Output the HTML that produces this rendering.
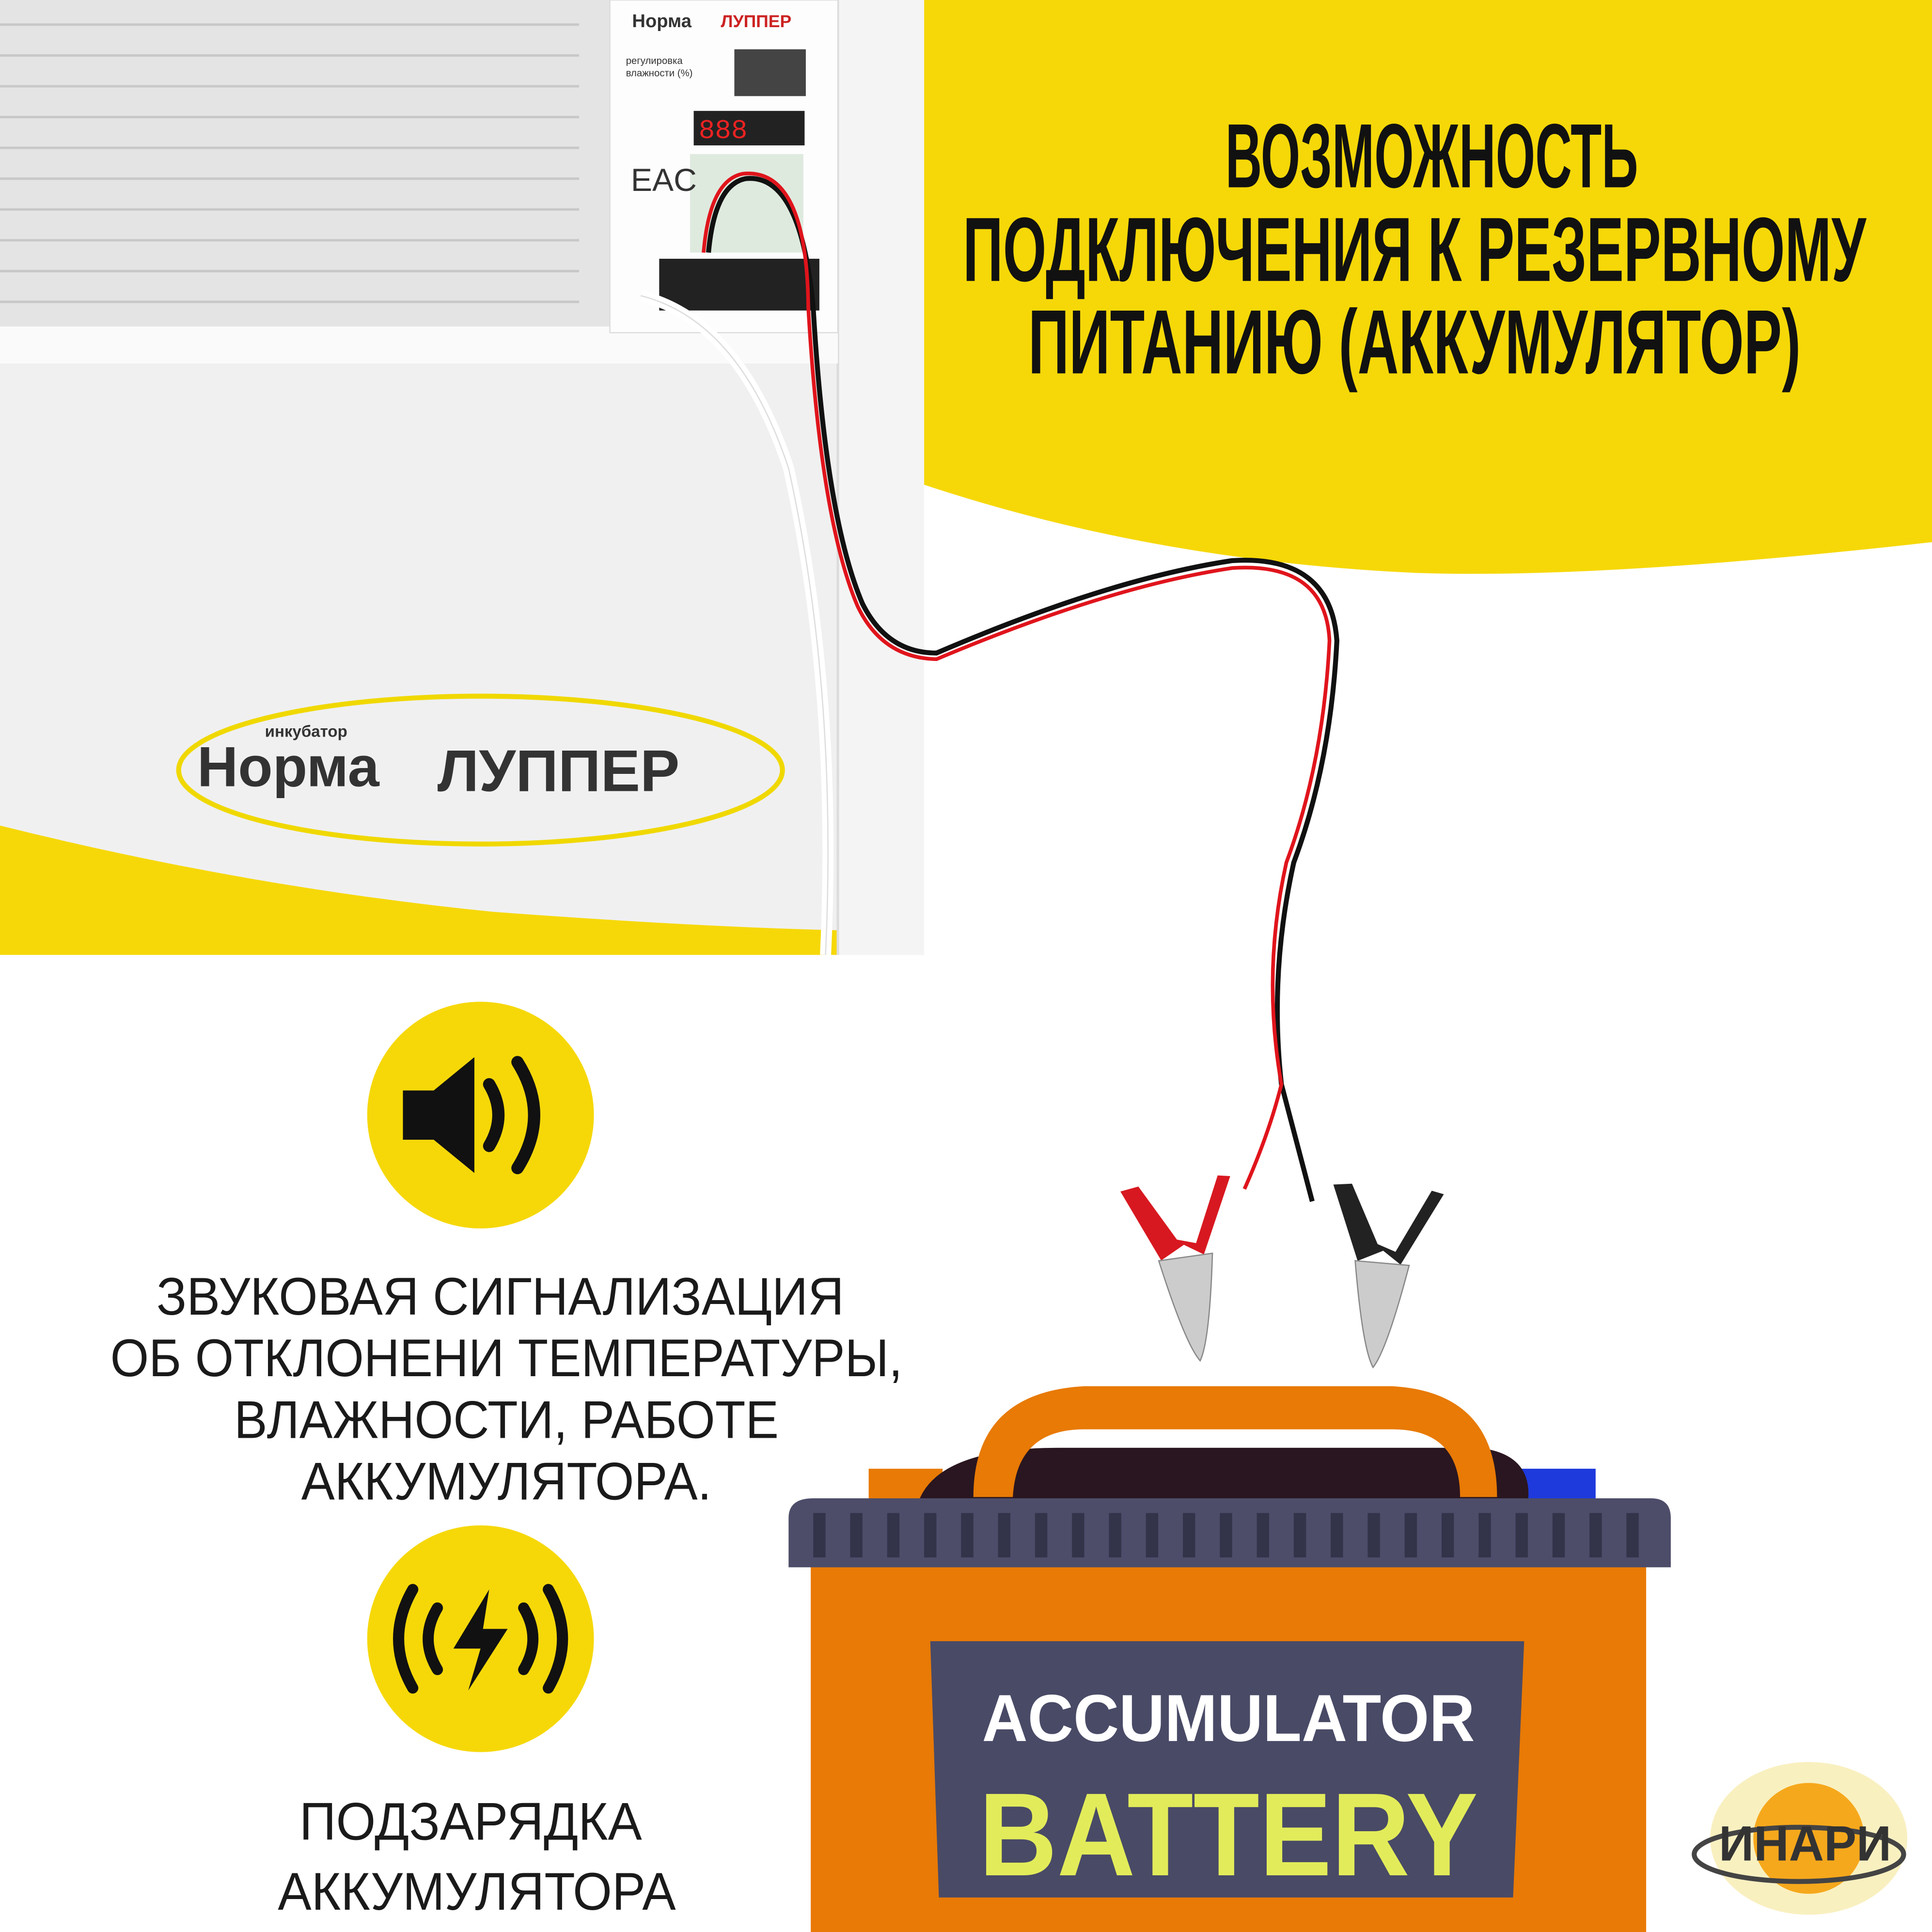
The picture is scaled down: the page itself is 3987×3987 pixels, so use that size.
<!DOCTYPE html>
<html><head><meta charset="utf-8"><style>
html,body{margin:0;padding:0;background:#fff;}
svg{display:block;}
</style></head><body>
<svg width="3987" height="3987" viewBox="0 0 1568 1568" xmlns="http://www.w3.org/2000/svg">
<rect width="1568" height="1568" fill="#fff"/>
<path d="M740 0 H1568 V440 Q1300 470 1150 465 Q930 455 740 390 Z" fill="#f6d808"/>
<rect x="0" y="0" width="750" height="775" fill="#f0f0f0"/>
<path d="M0 670 Q200 720 400 740 Q560 752 680 755 V775 H0 Z" fill="#f6d808"/>
<rect x="680" y="0" width="70" height="775" fill="#f4f4f4"/>
<line x1="680" y1="0" x2="680" y2="775" stroke="#dcdcdc" stroke-width="2"/>
<rect x="0" y="0" width="495" height="270" fill="#e4e4e4"/>
<g stroke="#c8c8c8" stroke-width="2">
<line x1="0" y1="20" x2="470" y2="20"/><line x1="0" y1="45" x2="470" y2="45"/><line x1="0" y1="70" x2="470" y2="70"/>
<line x1="0" y1="95" x2="470" y2="95"/><line x1="0" y1="120" x2="470" y2="120"/><line x1="0" y1="145" x2="470" y2="145"/>
<line x1="0" y1="170" x2="470" y2="170"/><line x1="0" y1="195" x2="470" y2="195"/><line x1="0" y1="220" x2="470" y2="220"/><line x1="0" y1="245" x2="470" y2="245"/>
</g>
<rect x="0" y="265" width="680" height="30" fill="#fafafa"/>
<rect x="495" y="0" width="185" height="270" fill="#fdfdfd" stroke="#ddd"/>
<text x="513" y="22" font-family="Liberation Sans, sans-serif" font-weight="bold" font-size="15" fill="#333">Норма</text>
<text x="585" y="22" font-family="Liberation Sans, sans-serif" font-weight="bold" font-size="14" fill="#c22">ЛУППЕР</text>
<text x="508" y="52" font-family="Liberation Sans, sans-serif" font-size="8" fill="#333">регулировка</text>
<text x="508" y="62" font-family="Liberation Sans, sans-serif" font-size="8" fill="#333">влажности (%)</text>
<rect x="596" y="40" width="58" height="38" fill="#444"/>
<rect x="563" y="90" width="90" height="28" fill="#222"/>
<text x="567" y="112" font-family="Liberation Mono, monospace" font-size="22" fill="#e22">888</text>
<rect x="560" y="125" width="92" height="80" fill="#dfeadf"/>
<rect x="535" y="210" width="130" height="42" fill="#222"/>
<text x="512" y="155" font-family="Liberation Sans, sans-serif" font-size="26" fill="#333">EAC</text>
<ellipse cx="390" cy="625" rx="245" ry="60" fill="none" stroke="#f0d800" stroke-width="4"/>
<text x="215" y="598" font-family="Liberation Sans, sans-serif" font-weight="bold" font-size="13" fill="#333">инкубатор</text>
<text x="160" y="638" font-family="Liberation Sans, sans-serif" font-weight="bold" font-size="46" fill="#333">Норма</text>
<text x="355" y="642" font-family="Liberation Sans, sans-serif" font-weight="bold" font-size="48" fill="#333">ЛУППЕР</text>
<path d="M520 240 Q600 260 640 380 Q680 560 670 775" fill="none" stroke="#fff" stroke-width="9"/>
<path d="M520 240 Q600 260 640 380 Q680 560 670 775" fill="none" stroke="#ddd" stroke-width="1"/>
<path d="M575 205 Q580 150 605 145 Q650 140 660 250 Q670 420 700 490 Q720 530 760 530 Q900 470 1000 455 Q1080 450 1085 520 Q1080 620 1050 700 Q1030 790 1040 880 L1065 975" fill="none" stroke="#111" stroke-width="4"/>
<path d="M571 205 Q576 146 603 141 Q655 136 656 250 Q666 422 696 492 Q716 534 760 535 Q900 476 1000 461 Q1076 456 1079 520 Q1074 620 1044 700 Q1024 790 1040 880 Q1030 920 1010 965" fill="none" stroke="#e0141c" stroke-width="3"/>
<g transform="translate(965,1040) rotate(-8)">
<path d="M-45 -80 L-20 -20 L0 -30 L15 -20 L45 -80 L35 -82 L10 -30 L-5 -35 L-30 -82 Z" fill="#d81820"/>
<path d="M-22 -20 Q-10 50 0 65 Q10 50 22 -20 Z" fill="#ccc" stroke="#888"/>
</g>
<g transform="translate(1120,1045) rotate(5)">
<path d="M-45 -80 L-20 -20 L0 -30 L15 -20 L45 -80 L35 -82 L10 -30 L-5 -35 L-30 -82 Z" fill="#222"/>
<path d="M-22 -20 Q-10 50 0 65 Q10 50 22 -20 Z" fill="#ccc" stroke="#888"/>
</g>
<g font-family="Liberation Sans Narrow, Liberation Sans, sans-serif" font-weight="bold" font-size="74" fill="#111" text-anchor="middle">
<text x="1162" y="152" textLength="335" lengthAdjust="spacingAndGlyphs">ВОЗМОЖНОСТЬ</text>
<text x="1148" y="228" textLength="733" lengthAdjust="spacingAndGlyphs">ПОДКЛЮЧЕНИЯ К РЕЗЕРВНОМУ</text>
<text x="1148" y="303" textLength="627" lengthAdjust="spacingAndGlyphs">ПИТАНИЮ (АККУМУЛЯТОР)</text>
</g>
<circle cx="390" cy="905" r="92" fill="#f6d808"/>
<path d="M327 885 H352 L385 858 V952 L352 925 H327 Z" fill="#111"/>
<path d="M397 880 Q412 905 397 930" fill="none" stroke="#111" stroke-width="10" stroke-linecap="round"/>
<path d="M420 862 Q447 905 420 948" fill="none" stroke="#111" stroke-width="10" stroke-linecap="round"/>
<circle cx="390" cy="1330" r="92" fill="#f6d808"/>
<path d="M397 1290 L368 1338 H390 L380 1372 L412 1322 H392 Z" fill="#111"/>
<g fill="none" stroke="#111" stroke-width="9" stroke-linecap="round">
<path d="M355 1305 Q340 1330 355 1355"/><path d="M335 1290 Q312 1330 335 1370"/>
<path d="M425 1305 Q440 1330 425 1355"/><path d="M445 1290 Q468 1330 445 1370"/>
</g>
<g font-family="Liberation Sans, sans-serif" font-size="43" fill="#1a1a1a" text-anchor="middle">
<text x="406" y="1067" textLength="558" lengthAdjust="spacingAndGlyphs">ЗВУКОВАЯ СИГНАЛИЗАЦИЯ</text>
<text x="411" y="1117" textLength="643" lengthAdjust="spacingAndGlyphs">ОБ ОТКЛОНЕНИ ТЕМПЕРАТУРЫ,</text>
<text x="411" y="1167" textLength="442" lengthAdjust="spacingAndGlyphs">ВЛАЖНОСТИ, РАБОТЕ</text>
<text x="411" y="1217" textLength="333" lengthAdjust="spacingAndGlyphs">АККУМУЛЯТОРА.</text>
<text x="382" y="1493" textLength="278" lengthAdjust="spacingAndGlyphs">ПОДЗАРЯДКА</text>
<text x="387" y="1550" textLength="323" lengthAdjust="spacingAndGlyphs">АККУМУЛЯТОРА</text>
</g>
<rect x="705" y="1192" width="60" height="30" fill="#e87a05"/>
<rect x="1230" y="1192" width="65" height="30" fill="#1e3adc"/>
<path d="M745 1220 Q760 1175 860 1175 H1200 Q1245 1180 1240 1220 Z" fill="#2a1620"/>
<path d="M790 1215 Q790 1130 880 1125 H1130 Q1215 1130 1215 1215 H1185 Q1185 1160 1130 1160 H880 Q825 1160 822 1215 Z" fill="#e87a05"/>
<rect x="658" y="1265" width="678" height="303" fill="#e87a05"/>
<path d="M640 1232 Q640 1216 660 1216 H1340 Q1356 1216 1356 1232 V1272 H640 Z" fill="#4d4d6a"/>
<g fill="#33334a">
<rect x="660" y="1228" width="10" height="36"/><rect x="690" y="1228" width="10" height="36"/><rect x="720" y="1228" width="10" height="36"/><rect x="750" y="1228" width="10" height="36"/><rect x="780" y="1228" width="10" height="36"/><rect x="810" y="1228" width="10" height="36"/><rect x="840" y="1228" width="10" height="36"/><rect x="870" y="1228" width="10" height="36"/><rect x="900" y="1228" width="10" height="36"/><rect x="930" y="1228" width="10" height="36"/><rect x="960" y="1228" width="10" height="36"/><rect x="990" y="1228" width="10" height="36"/><rect x="1020" y="1228" width="10" height="36"/><rect x="1050" y="1228" width="10" height="36"/><rect x="1080" y="1228" width="10" height="36"/><rect x="1110" y="1228" width="10" height="36"/><rect x="1140" y="1228" width="10" height="36"/><rect x="1170" y="1228" width="10" height="36"/><rect x="1200" y="1228" width="10" height="36"/><rect x="1230" y="1228" width="10" height="36"/><rect x="1260" y="1228" width="10" height="36"/><rect x="1290" y="1228" width="10" height="36"/><rect x="1320" y="1228" width="10" height="36"/>
</g>
<path d="M755 1332 H1237 L1228 1540 H762 Z" fill="#494a66"/>
<text x="997" y="1413" text-anchor="middle" font-family="Liberation Sans, sans-serif" font-weight="bold" font-size="54" fill="#fff" textLength="400" lengthAdjust="spacingAndGlyphs">ACCUMULATOR</text>
<text x="997" y="1522" text-anchor="middle" font-family="Liberation Sans, sans-serif" font-weight="bold" font-size="96" fill="#e2ec5a" textLength="405" lengthAdjust="spacingAndGlyphs">BATTERY</text>
<ellipse cx="1468" cy="1492" rx="80" ry="62" fill="#f8ecb0" opacity="0.8"/>
<circle cx="1468" cy="1492" r="45" fill="#f6a81c"/>
<ellipse cx="1460" cy="1505" rx="85" ry="22" fill="none" stroke="#444" stroke-width="4"/>
<text x="1465" y="1510" text-anchor="middle" font-family="Liberation Sans Narrow, Liberation Sans, sans-serif" font-weight="bold" font-size="40" fill="#333" textLength="140" lengthAdjust="spacingAndGlyphs">ИНАРИ</text>
</svg>
</body></html>
